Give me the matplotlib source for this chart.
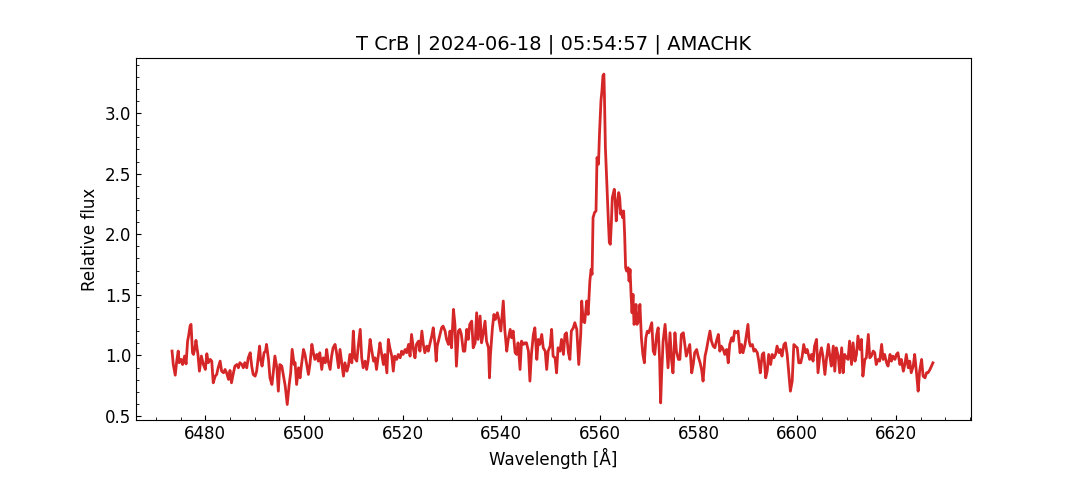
import matplotlib
matplotlib.use("Agg")
import matplotlib.pyplot as plt
from matplotlib.ticker import MultipleLocator

title = "T CrB | 2024-06-18 | 05:54:57 | AMACHK"
x_label = "Wavelength [Å]"
y_label = "Relative flux"

# blue continuum 6473-6527 A
wl_blue = [6473.25, 6473.5, 6473.9, 6474.2, 6474.5, 6474.7, 6475.1, 6475.4, 6475.8, 6476.1,
           6476.4, 6476.6, 6476.9, 6477.1, 6477.4, 6477.6, 6477.9, 6478.1, 6478.5, 6478.8,
           6479.2, 6479.6, 6480.0, 6480.3, 6480.6, 6481.0, 6481.3, 6481.6, 6482.0, 6482.3,
           6482.6, 6483.0, 6483.3, 6483.7, 6484.0, 6484.3, 6484.7, 6485.0, 6485.3, 6485.7,
           6486.0, 6486.4, 6486.7, 6487.0, 6487.4, 6487.7, 6488.0, 6488.4, 6488.7, 6489.1,
           6489.4, 6489.7, 6490.1, 6490.4, 6490.8, 6491.0, 6491.2, 6491.5, 6491.9, 6492.2,
           6492.4, 6492.8, 6493.1, 6493.5, 6493.8, 6494.1, 6494.5, 6494.8, 6495.1, 6495.5,
           6495.8, 6496.2, 6496.6, 6497.0, 6497.3, 6497.6, 6498.0, 6498.2, 6498.5, 6498.9,
           6499.2,
           6499.5, 6499.9, 6500.2, 6500.5, 6500.9, 6501.2, 6501.6, 6501.9, 6502.2, 6502.6,
           6502.9, 6503.2, 6503.6, 6503.9, 6504.3, 6504.6, 6504.9, 6505.3, 6505.6, 6505.9,
           6506.3, 6506.6, 6507.0, 6507.3, 6507.6, 6508.0, 6508.3, 6508.7, 6509.0, 6509.3,
           6509.7, 6510.0, 6510.3, 6510.7, 6511.0, 6511.4, 6511.7, 6512.0, 6512.4, 6512.7,
           6513.0, 6513.4, 6513.7, 6514.1, 6514.4, 6514.7, 6515.1, 6515.4, 6515.7, 6516.1,
           6516.4, 6516.8, 6517.1, 6517.4, 6517.8, 6518.1, 6518.4, 6518.8, 6519.1, 6519.5,
           6519.8, 6520.1, 6520.5, 6520.8, 6521.2, 6521.5, 6521.8, 6522.2, 6522.5, 6522.8,
           6523.2, 6523.5, 6523.9, 6524.2, 6524.5, 6524.9, 6525.2, 6525.5, 6525.9, 6526.2,
           6526.6, 6526.8, 6527.0]
flux_blue = [1.036, 0.925, 0.837, 0.953, 1.036, 0.94, 0.967, 0.925, 0.995, 0.93,
             1.118, 1.16, 1.242, 1.256, 1.022, 1.008, 1.063, 1.124, 1.008, 0.87,
             0.995, 0.925, 0.884, 1.014, 0.94, 0.967, 0.953, 0.774, 0.829, 0.843,
             0.898, 0.953, 0.87, 0.857, 0.884, 0.857, 0.802, 0.876, 0.774, 0.857,
             0.912, 0.925, 0.898, 0.94, 0.925, 0.898, 0.94, 0.898, 0.98, 1.022,
             0.912, 0.843, 0.829, 0.87, 1.008, 1.077, 0.967, 0.912, 1.022, 1.036,
             1.091, 0.967, 0.815, 0.76, 0.87, 0.995, 0.898, 0.705, 0.925, 0.912,
             0.843, 0.746, 0.595, 0.76, 0.857, 1.05, 0.925, 0.94, 0.76, 0.898,
             0.815,
             0.925, 1.049, 1.008, 0.939, 0.843, 0.925, 1.091, 1.022, 0.967, 1.008,
             0.953, 1.022, 0.884, 0.98, 0.939, 1.049, 0.953, 0.884, 0.994, 1.063,
             1.091, 1.022, 0.898, 1.049, 0.953, 0.829, 0.939, 0.87, 0.912, 1.008,
             0.939, 1.201, 0.98, 0.953, 1.077, 1.215, 0.98, 0.898, 0.953, 0.884,
             0.953, 1.132, 1.049, 0.953, 0.98, 0.884, 1.008, 1.104, 1.022, 0.925,
             1.008, 0.856, 1.132, 1.063, 0.994, 0.87, 0.994, 0.967, 1.008, 0.98,
             1.035, 1.008, 1.049, 1.022, 1.091, 0.994, 1.173, 1.049, 0.98, 1.091,
             1.118, 1.035, 1.201, 1.091, 1.022, 1.077, 1.035, 1.091, 1.16, 1.228,
             1.077, 0.953, 1.077]

# continuum rising toward H-alpha, 6528-6555 A
wl_mid = [6527.9, 6528.2, 6528.6, 6528.9, 6529.3, 6529.6, 6529.9, 6530.3, 6530.6, 6530.9,
          6531.3, 6531.6, 6531.9, 6532.3, 6532.6, 6533.0, 6533.3, 6533.6, 6534.0, 6534.3,
          6534.7, 6535.0, 6535.3, 6535.7, 6536.0, 6536.3, 6536.7, 6537.0, 6537.4, 6537.6,
          6537.8, 6538.2, 6538.5, 6538.8, 6539.2, 6539.5, 6539.9, 6540.2, 6540.4, 6540.7,
          6541.1, 6541.4, 6541.8, 6542.1, 6542.4, 6542.8, 6543.1, 6543.4, 6543.8, 6544.1,
          6544.5, 6544.8, 6545.1, 6545.5, 6545.8, 6546.1, 6546.5, 6546.8, 6547.2, 6547.5,
          6547.8, 6548.2, 6548.5, 6548.9, 6549.2, 6549.5, 6549.9, 6550.2, 6550.5, 6550.9,
          6551.2, 6551.5, 6551.9, 6552.2, 6552.6, 6552.9, 6553.2, 6553.6, 6553.9, 6554.2,
          6554.6, 6554.9, 6555.3]
flux_mid = [1.228, 1.242, 1.201, 1.132, 1.091, 1.201, 1.063, 1.38, 1.256, 0.911,
            1.201, 1.215, 1.173, 1.035, 1.035, 1.215, 1.132, 1.256, 1.283, 1.063,
            1.104, 1.352, 1.132, 1.325, 1.104, 1.173, 1.283, 1.118, 1.063, 0.815,
            1.008, 1.228, 1.338, 1.297, 1.352, 1.297, 1.201, 1.352, 1.449, 1.215,
            1.035, 1.132, 1.215, 1.146, 1.201, 1.022, 1.008, 1.104, 0.884, 1.118,
            1.091, 1.104, 1.104, 1.035, 0.788, 1.008, 1.173, 1.228, 0.967, 1.132,
            1.091, 1.173, 1.063, 1.035, 0.884, 1.035, 1.077, 1.215, 0.994, 0.98,
            0.856, 1.063, 1.035, 1.132, 1.008, 1.173, 1.187, 1.022, 0.967, 1.201,
            1.228, 1.27, 1.215]

# H-alpha emission line, 6555.7-6572.3 A
wl_line = [6555.7, 6556.1, 6556.3, 6556.6, 6556.9, 6557.3, 6557.6, 6557.95, 6558.2, 6558.4,
           6558.6, 6558.9, 6559.2, 6559.4, 6559.7, 6559.9, 6560.2, 6560.4, 6560.6, 6560.8,
           6560.9, 6561.1, 6561.4, 6561.7, 6561.9, 6562.1, 6562.3, 6562.5, 6562.9, 6563.1,
           6563.3, 6563.5, 6563.8, 6564.0, 6564.2, 6564.4, 6564.6, 6564.8, 6565.0, 6565.2,
           6565.4, 6565.7, 6565.9, 6566.1, 6566.3, 6566.5, 6566.7, 6566.9, 6567.1, 6567.3,
           6567.5, 6567.8, 6568.1, 6568.4, 6568.7, 6569.0, 6569.3, 6569.6, 6569.9, 6570.2,
           6570.5, 6570.8, 6571.1, 6571.5, 6571.8, 6572.1, 6572.3]
flux_line = [0.925, 1.173, 1.449, 1.283, 1.27, 1.449, 1.338, 1.614, 1.71, 1.669,
             2.137, 2.179, 2.192, 2.633, 2.578, 2.826, 3.101, 3.184, 3.308, 3.322,
             3.156, 2.716, 2.413, 2.11, 1.931, 1.917, 2.082, 2.302, 2.371, 2.275,
             2.11, 2.22, 2.344, 2.302, 2.165, 2.192, 2.137, 2.192, 2.0, 1.724,
             1.696, 1.724, 1.614, 1.71, 1.504, 1.352, 1.504, 1.256, 1.283, 1.421,
             1.256, 1.283, 1.421, 1.145, 1.008, 0.939, 1.145, 1.2, 1.187, 1.228,
             1.27, 1.035, 1.008, 1.173, 1.228, 0.953, 0.608]

# red continuum 6572.5-6627.5 A
wl_red = [6572.5, 6572.8, 6573.2, 6573.5, 6573.8, 6574.2, 6574.5, 6574.8, 6575.2, 6575.5,
          6575.9, 6576.2, 6576.5, 6576.9, 6577.2, 6577.5, 6577.9, 6578.2, 6578.6, 6578.9,
          6579.2, 6579.6, 6579.9, 6580.3, 6580.6, 6580.9, 6581.3, 6581.6, 6581.9, 6582.3,
          6582.6, 6582.95, 6583.3, 6583.6, 6584.0, 6584.3, 6584.6, 6585.0, 6585.3, 6585.7,
          6586.0, 6586.3, 6586.7, 6587.0, 6587.3, 6587.7, 6588.0, 6588.4, 6588.7, 6589.0,
          6589.4, 6589.7, 6590.0, 6590.25, 6590.5, 6590.9, 6591.2, 6591.5, 6591.9, 6592.2,
          6592.5, 6592.9, 6593.2, 6593.6, 6593.9, 6594.2, 6594.6, 6594.9, 6595.25, 6595.6,
          6595.9, 6596.3, 6596.6, 6596.9, 6597.3, 6597.6, 6597.95, 6598.3, 6598.6, 6598.97,
          6599.3, 6599.6, 6600.0, 6600.3, 6600.7, 6601.0, 6601.3, 6601.7, 6602.0,
          6602.5, 6602.9, 6603.2, 6603.5, 6603.9, 6604.2, 6604.6, 6604.9, 6605.2, 6605.6,
          6605.9, 6606.3, 6606.6, 6606.9, 6607.3, 6607.6, 6607.9, 6608.3, 6608.6, 6609.0,
          6609.3, 6609.6, 6610.0, 6610.3, 6610.6, 6611.0, 6611.3, 6611.7, 6612.0, 6612.3,
          6612.7, 6613.0, 6613.3, 6613.7, 6614.0, 6614.4, 6614.7, 6615.0, 6615.4, 6615.7,
          6616.0, 6616.4, 6616.7, 6617.1, 6617.4, 6617.7, 6618.1, 6618.4, 6618.8, 6619.1,
          6619.4, 6619.8, 6620.1, 6620.4, 6620.8, 6621.1, 6621.5, 6621.8, 6622.1, 6622.5,
          6622.8, 6623.1, 6623.5, 6623.8, 6624.2, 6624.5, 6624.8, 6625.2, 6625.5, 6625.9,
          6626.2, 6626.5, 6626.9, 6627.2, 6627.5]
flux_red = [0.843, 1.118, 1.256, 1.09, 0.898, 1.187, 0.967, 0.856, 1.187, 1.035,
            0.967, 0.967, 1.173, 1.187, 1.09, 0.994, 1.049, 1.09, 0.856, 0.925,
            1.022, 1.049, 0.994, 0.939, 0.884, 0.788, 0.994, 1.049, 1.118, 1.201,
            1.118, 1.077, 1.063, 1.118, 1.173, 1.035, 1.077, 1.049, 1.008, 1.049,
            0.939, 1.09, 1.146, 1.118, 1.201, 1.187, 1.201, 1.022, 1.09, 1.022,
            1.09, 1.173, 1.256, 1.118, 1.077, 1.09, 1.035, 1.049, 1.022, 0.953,
            0.856, 1.008, 1.022, 0.815, 0.87, 1.008, 0.925, 1.008, 0.98, 1.008,
            1.077, 1.022, 1.049, 0.994, 1.09, 1.104, 1.008, 0.843, 0.705, 0.788,
            1.09, 1.077, 1.063, 0.939, 0.939, 0.994, 1.09, 1.022, 1.049,
            0.967, 1.008, 0.953, 1.077, 1.132, 0.857, 1.008, 1.063, 0.994, 0.843,
            0.967, 1.091, 0.994, 0.912, 1.077, 0.87, 1.063, 0.994, 0.857, 1.063,
            0.857, 1.008, 0.98, 0.967, 1.118, 0.925, 1.104, 0.953, 1.008, 1.16,
            1.049, 1.132, 0.829, 0.967, 0.98, 1.173, 0.98, 0.994, 1.036, 1.022,
            0.925, 0.967, 0.953, 1.091, 0.967, 1.008, 0.939, 0.912, 1.008, 0.953,
            0.994, 0.967, 1.008, 1.022, 0.925, 0.967, 0.87, 0.925, 1.008, 0.898,
            0.953, 0.857, 0.912, 1.008, 0.843, 0.705, 0.87, 0.967, 0.829, 0.815,
            0.857, 0.857, 0.884, 0.912, 0.939]

wavelength = wl_blue + wl_mid + wl_line + wl_red
flux = flux_blue + flux_mid + flux_line + flux_red

fig = plt.figure(figsize=(10.8, 4.8), dpi=100)
ax = fig.add_axes([0.126, 0.125, 0.773, 0.754])
ax.plot(wavelength, flux, color="#d62728", linewidth=2.0)
ax.set_xlim(6465.96, 6635.2)
ax.set_ylim(0.467, 3.454)
ax.xaxis.set_major_locator(MultipleLocator(20))
ax.xaxis.set_minor_locator(MultipleLocator(5))
ax.yaxis.set_major_locator(MultipleLocator(0.5))
ax.yaxis.set_minor_locator(MultipleLocator(0.1))
ax.tick_params(which="both", direction="in", labelsize=12)
ax.set_title(title, fontsize=14)
ax.set_xlabel(x_label, fontsize=12)
ax.set_ylabel(y_label, fontsize=12)
fig.savefig("out.png", dpi=100)
